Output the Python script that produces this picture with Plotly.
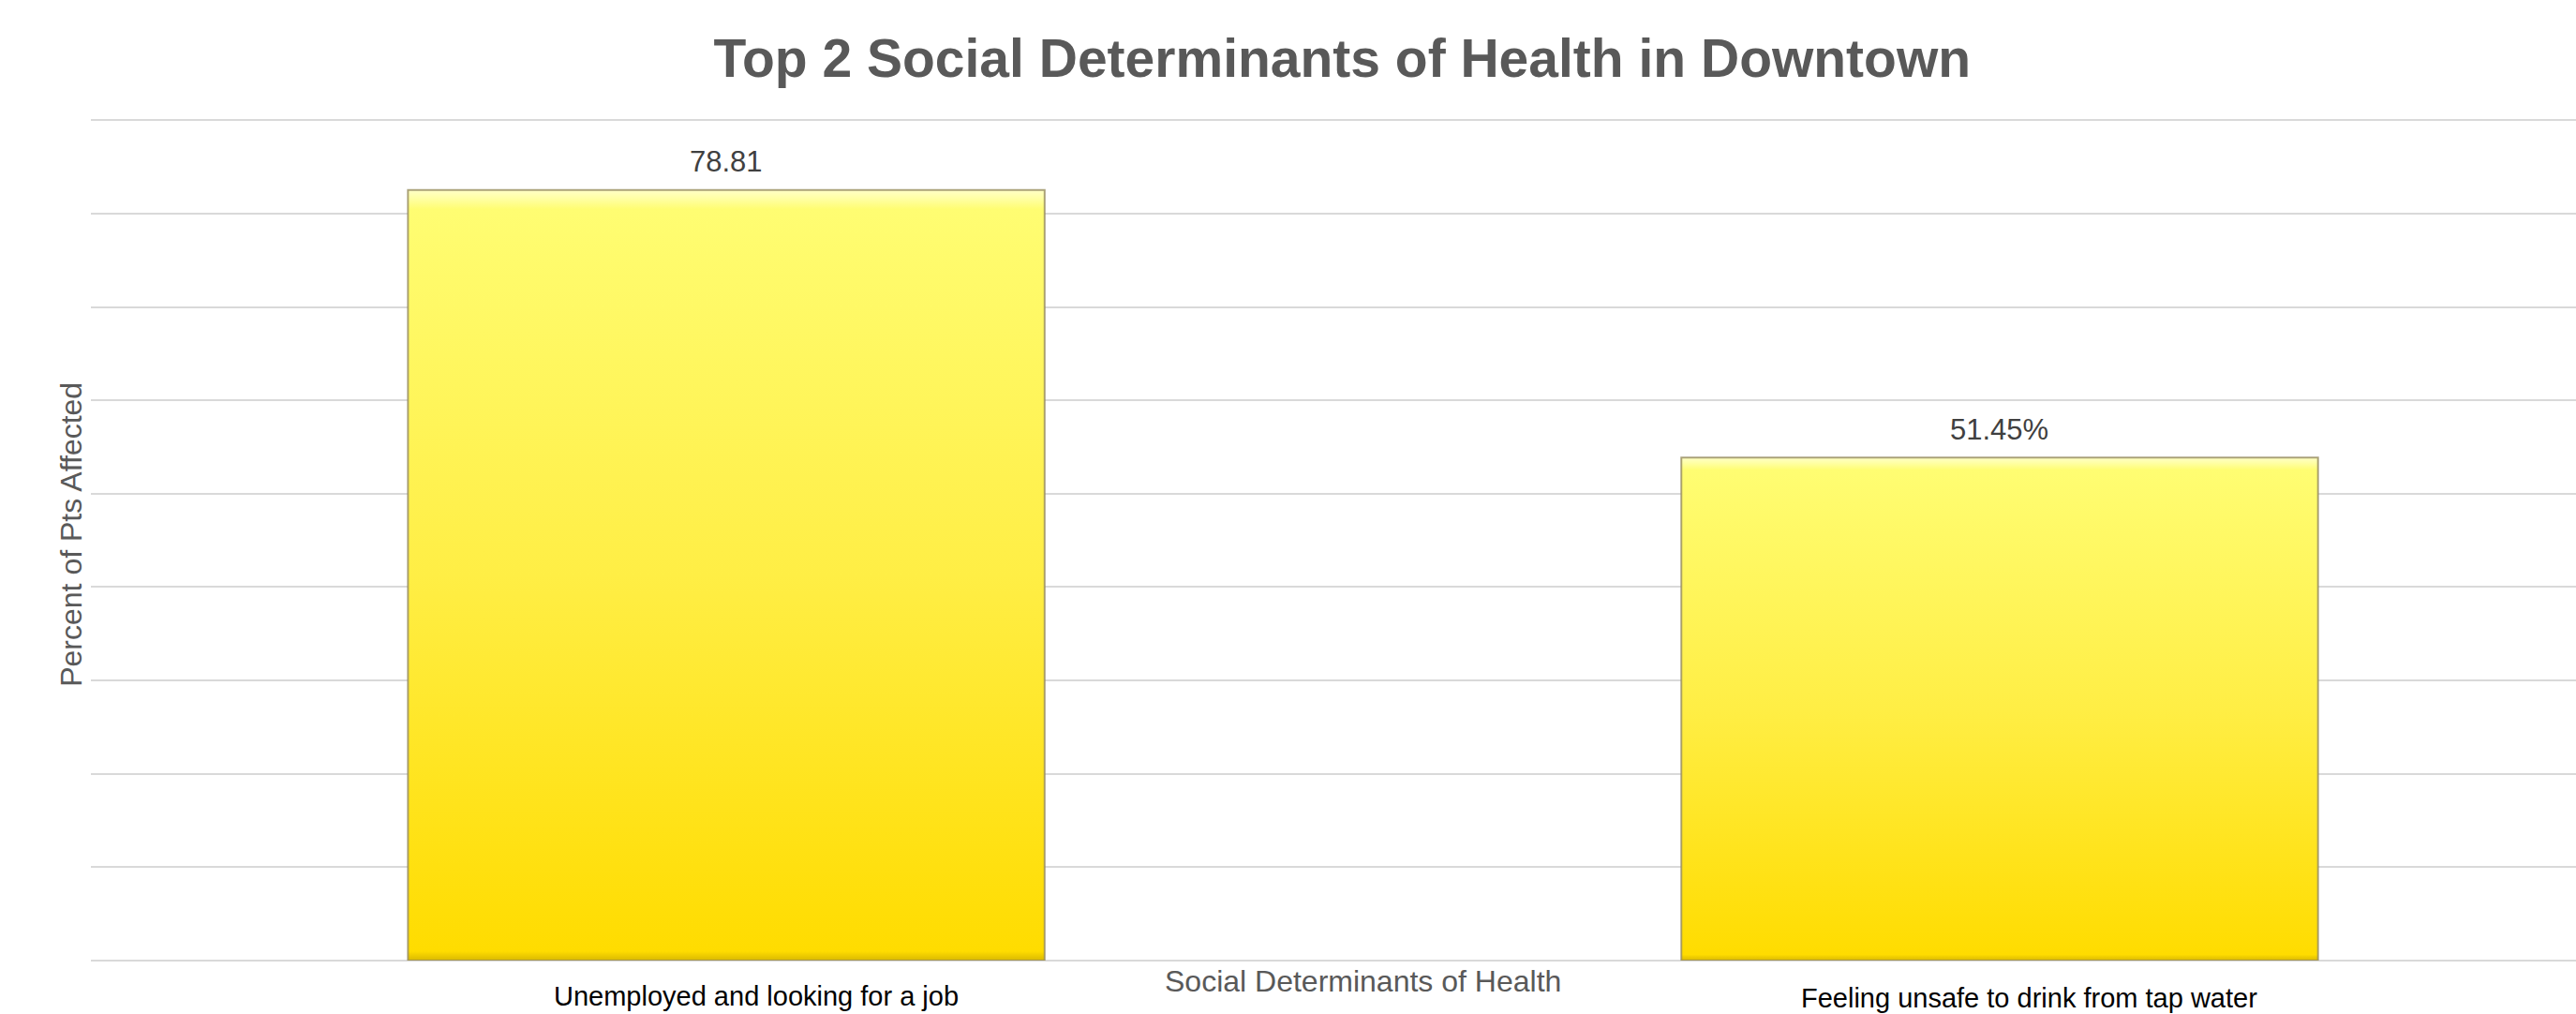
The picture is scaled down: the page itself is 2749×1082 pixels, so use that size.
import plotly.graph_objects as go

# Chart data
categories = ["Unemployed and looking for a job", "Feeling unsafe to drink from tap water"]
values = [78.81, 51.45]
value_labels = ["78.81", "51.45%"]

title_text = "Top 2 Social Determinants of Health in Downtown"
x_title = "Social Determinants of Health"
y_title = "Percent of Pts Affected"

FONT = "Liberation Sans, Arial, Helvetica, sans-serif"
positions = list(range(len(categories)))
bar_width = 0.5

# vertical axis: 9 unlabeled gridline intervals
n_intervals = 9
y_step = 9.549
y_max = y_step * n_intervals

gold_scale = [
    [0.0, "#D9B800"],
    [0.012, "#FFDC00"],
    [0.5, "#FFEE45"],
    [0.975, "#FFFD72"],
    [0.99, "#FFFFA8"],
    [1.0, "#FFFFC8"],
]

fig = go.Figure()

# base bars
fig.add_trace(go.Bar(
    x=positions, y=values, width=bar_width,
    marker=dict(color="#FFEE45", line=dict(width=0)),
    hoverinfo="skip", showlegend=False,
))

# gradient face + bevel outline drawn over each bar
for p, v in zip(positions, values):
    x0, x1 = p - bar_width / 2, p + bar_width / 2
    fig.add_trace(go.Scatter(
        x=[x0, x1, x1, x0, x0], y=[0, 0, v, v, 0],
        mode="lines", fill="toself",
        fillgradient=dict(type="vertical", start=0, stop=v, colorscale=gold_scale),
        line=dict(color="rgba(150,140,100,0.8)", width=2),
        hoverinfo="skip", showlegend=False,
    ))

# value labels above the bars
for p, v, lab in zip(positions, values, value_labels):
    fig.add_annotation(
        x=p, y=v, xref="x", yref="y", text=lab, showarrow=False,
        yanchor="middle", yshift=30,
        font=dict(family=FONT, size=31, color="#404040"),
    )

# category labels under the axis
for p, cat, dy in zip(positions, categories, [-0.042, -0.044]):
    fig.add_annotation(
        x=p, y=dy, xref="x", yref="paper", text=cat, showarrow=False,
        xanchor="center", yanchor="middle", xshift=32,
        font=dict(family=FONT, size=29, color="#000000"),
    )

# axis titles
fig.add_annotation(
    x=0.512, y=-0.0245, xref="paper", yref="paper", text=x_title,
    showarrow=False, xanchor="center", yanchor="middle",
    font=dict(family=FONT, size=32, color="#595959"),
)
fig.add_annotation(
    x=-0.008, y=0.5067, xref="paper", yref="paper", text=y_title,
    showarrow=False, xanchor="center", yanchor="middle", textangle=-90,
    font=dict(family=FONT, size=32, color="#595959"),
)

fig.update_layout(
    width=2749, height=1082,
    margin=dict(l=97, r=0, t=127, b=57, pad=0),
    paper_bgcolor="white", plot_bgcolor="white",
    showlegend=False,
    font=dict(family=FONT),
    title=dict(
        text=title_text, x=0.521, xref="container", xanchor="center",
        y=0.943, yref="container", yanchor="middle",
        font=dict(family=FONT, size=57, color="#595959", weight="bold"),
    ),
    xaxis=dict(
        range=[-0.499, 1.4526], tickmode="array", tickvals=positions,
        showticklabels=False, showgrid=False, zeroline=False, showline=False,
        ticks="", automargin=False,
    ),
    yaxis=dict(
        range=[0, y_max + 0.12], tick0=0, dtick=y_step, showticklabels=False,
        showgrid=True, gridcolor="#D9D9D9", gridwidth=2,
        zeroline=True, zerolinecolor="#D9D9D9", zerolinewidth=2,
        showline=False, ticks="", automargin=False,
    ),
)

fig.write_html("out.html")
